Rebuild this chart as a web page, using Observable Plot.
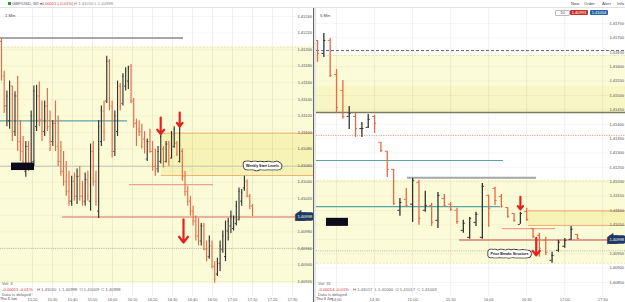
<!DOCTYPE html>
<html><head><meta charset="utf-8">
<script src="https://cdn.jsdelivr.net/npm/d3@7"></script>
<script src="https://cdn.jsdelivr.net/npm/@observablehq/plot@0.6"></script>
<style>
body{margin:0;background:#fff;font-family:"Liberation Sans",Arial,sans-serif;}
#wrap{position:relative;width:625px;height:302px;overflow:hidden;background:#fff;}
#left,#right{position:absolute;top:0;}
#left{left:0;width:313px;height:302px}
#right{left:316px;width:309px;height:302px}
.t{position:absolute;font-size:4.2px;line-height:5px;white-space:nowrap;color:#666;z-index:3}
.hdr{position:absolute;left:0;top:0;width:625px;height:7px;background:#fff;border-bottom:1px solid #e2e2e2;z-index:2}
.div{position:absolute;left:313px;top:8px;width:3px;height:294px;background:#e6e6e6;border-left:1px solid #666;box-sizing:border-box;z-index:2}
.btn{position:absolute;top:10px;height:5px;font-size:4px;line-height:5px;color:#fff;text-align:center;z-index:3;border-radius:1px}
</style></head><body><div id="wrap">
<div id="left"></div><div id="right"></div>
<div class="hdr"></div>
<div class="div"></div>
<div style="position:absolute;left:8px;top:2px;width:3px;height:3px;background:#2a9d3a;z-index:3"></div>
<div class="t" style="left:12px;top:1px;color:#556">GBP/USD, M1 ▾</div>
<div class="t" style="left:40px;top:1px;color:#d33">-0.00011 (-0.01%)</div>
<div class="t" style="left:74px;top:1px;color:#888">H 1.41010 L 1.40998</div>
<div class="t" style="left:5px;top:13px;color:#444">1 Min</div>
<div class="t" style="left:320px;top:13px;color:#444">5 Min</div>
<div class="t" style="left:571px;top:1px;color:#445">New</div>
<div class="t" style="left:584px;top:1px;color:#445">Order</div>
<div class="t" style="left:602px;top:1px;color:#445">Alert</div>
<div class="t" style="left:617px;top:1px;color:#445">Info</div>
<div class="btn" style="left:555px;width:13px;background:#fff;border:0.5px solid #bbb;color:#444;top:10px;height:4px;line-height:4px">10</div>
<div class="btn" style="left:570px;width:18px;background:#c9302c">1.40993</div>
<div class="btn" style="left:590px;width:18px;background:#2a64a8">1.41004</div>
<div class="t" style="left:2px;top:281px">Vol: 3</div>
<div class="t" style="left:2px;top:287px;color:#d33">-0.00011 -0.01%</div>
<div class="t" style="left:37px;top:287px">H 1.41010 &nbsp;L 1.40998 &nbsp;O 1.41009 &nbsp;C 1.40998</div>
<div class="t" style="left:2px;top:292px">Data is delayed</div>
<div class="t" style="left:0px;top:297px;color:#333;font-size:3.8px">Thu 3 Jun</div>
<div class="t" style="left:318px;top:281px">Vol: 31</div>
<div class="t" style="left:318px;top:287px;color:#d33">-0.00014 -0.01%</div>
<div class="t" style="left:353px;top:287px">H 1.41017 &nbsp;L 1.41000 &nbsp;O 1.41017 &nbsp;C 1.41003</div>
<div class="t" style="left:318px;top:292px">Data is delayed</div>
<div class="t" style="left:316px;top:297px;color:#333;font-size:3.8px">Thu 3 Jun</div>
</div>
<script>
// ---------- DATA ----------
// Left panel (1 Min) OHLC
const leftOpen = [1.41210,1.41168,1.41132,1.41114,1.41156,1.41101,1.41144,1.41089,1.41077,1.41053,1.41083,1.41059,1.41065,1.41107,1.41144,1.41116,1.41101,1.41132,1.41107,1.41089,1.41111,1.41083,1.41065,1.41053,1.41041,1.41029,1.41017,1.41041,1.41023,1.41047,1.41023,1.41017,1.41043,1.41017,1.41077,1.41041,1.41005,1.41089,1.41126,1.41138,1.41186,1.41132,1.41077,1.41101,1.41156,1.41135,1.41156,1.41162,1.41180,1.41138,1.41111,1.41104,1.41101,1.41092,1.41068,1.41089,1.41077,1.41059,1.41056,1.41065,1.41080,1.41065,1.41086,1.41069,1.41083,1.41087,1.41065,1.41077,1.41047,1.41029,1.41017,1.41005,1.40993,1.40975,1.40969,1.40987,1.40959,1.40950,1.40963,1.40938,1.40929,1.40942,1.40959,1.40950,1.40981,1.40987,1.40984,1.40990,1.40995,1.41017,1.41033,1.41041,1.41023,1.41011];
const leftHigh = [1.41213,1.41174,1.41150,1.41162,1.41156,1.41149,1.41168,1.41114,1.41095,1.41089,1.41089,1.41126,1.41156,1.41157,1.41161,1.41138,1.41138,1.41153,1.41126,1.41114,1.41138,1.41120,1.41089,1.41077,1.41065,1.41053,1.41047,1.41051,1.41056,1.41059,1.41041,1.41051,1.41053,1.41086,1.41089,1.41053,1.41114,1.41132,1.41138,1.41192,1.41188,1.41138,1.41126,1.41162,1.41159,1.41171,1.41178,1.41180,1.41182,1.41141,1.41116,1.41114,1.41110,1.41101,1.41092,1.41104,1.41089,1.41080,1.41083,1.41098,1.41083,1.41089,1.41089,1.41101,1.41107,1.41089,1.41107,1.41080,1.41053,1.41035,1.41023,1.41011,1.40999,1.40996,1.40990,1.40990,1.40969,1.40975,1.40969,1.40944,1.40948,1.40969,1.40981,1.40993,1.40996,1.41005,1.40999,1.41017,1.41033,1.41031,1.41047,1.41043,1.41025,1.41013];
const leftLow = [1.41162,1.41123,1.41107,1.41104,1.41089,1.41095,1.41077,1.41065,1.41056,1.41046,1.41053,1.41056,1.41059,1.41101,1.41107,1.41089,1.41095,1.41101,1.41077,1.41083,1.41077,1.41059,1.41047,1.41035,1.41023,1.41011,1.41011,1.41017,1.41013,1.41017,1.41011,1.41011,1.41017,1.41005,1.41035,1.41011,1.40996,1.41083,1.41089,1.41135,1.41126,1.41069,1.41071,1.41095,1.41126,1.41132,1.41150,1.41152,1.41135,1.41105,1.41083,1.41095,1.41080,1.41074,1.41065,1.41075,1.41053,1.41047,1.41051,1.41062,1.41057,1.41063,1.41059,1.41068,1.41081,1.41071,1.41063,1.41041,1.41023,1.41011,1.40999,1.40987,1.40969,1.40963,1.40963,1.40957,1.40944,1.40947,1.40935,1.40918,1.40926,1.40932,1.40954,1.40944,1.40969,1.40978,1.40981,1.40987,1.40993,1.41011,1.41029,1.41021,1.41007,1.40999];
const leftClose = [1.41168,1.41132,1.41144,1.41156,1.41101,1.41144,1.41089,1.41077,1.41065,1.41083,1.41059,1.41120,1.41150,1.41144,1.41116,1.41101,1.41132,1.41107,1.41089,1.41111,1.41083,1.41065,1.41053,1.41041,1.41029,1.41017,1.41041,1.41023,1.41047,1.41023,1.41017,1.41043,1.41023,1.41077,1.41041,1.41017,1.41107,1.41126,1.41101,1.41186,1.41132,1.41077,1.41120,1.41156,1.41132,1.41168,1.41174,1.41178,1.41138,1.41111,1.41089,1.41101,1.41083,1.41077,1.41089,1.41077,1.41059,1.41053,1.41077,1.41095,1.41063,1.41086,1.41065,1.41098,1.41104,1.41074,1.41104,1.41047,1.41029,1.41017,1.41005,1.40993,1.40975,1.40969,1.40987,1.40959,1.40950,1.40969,1.40938,1.40923,1.40944,1.40963,1.40975,1.40987,1.40993,1.40999,1.40996,1.41011,1.41029,1.41027,1.41043,1.41023,1.41011,1.41000];
const leftFirstBar = 904.5, leftLastBar = 1030; // minutes of day

// Right panel (5 Min) OHLC, first bar 13:45
const rightOpen = [1.41691,1.41646,1.41691,1.41573,1.41517,1.41427,1.41427,1.41385,1.41389,1.41427,1.41337,1.41306,1.41243,1.41101,1.41139,1.41122,1.41198,1.41101,1.41118,1.41066,1.41142,1.41122,1.41101,1.41031,1.41007,1.41059,1.41007,1.41153,1.41177,1.41149,1.41111,1.41090,1.41052,1.41097,1.41038,1.41014,1.40997,1.40927,1.40962,1.40976,1.41000,1.41017];
const rightHigh = [1.41691,1.41715,1.41698,1.41590,1.41552,1.41462,1.41437,1.41406,1.41434,1.41431,1.41337,1.41306,1.41243,1.41142,1.41177,1.41212,1.41205,1.41167,1.41125,1.41163,1.41156,1.41128,1.41108,1.41066,1.41076,1.41094,1.41194,1.41153,1.41181,1.41156,1.41111,1.41090,1.41094,1.41108,1.41038,1.41021,1.41007,1.40955,1.40997,1.41003,1.41045,1.41017];
const rightLow = [1.41615,1.41632,1.41562,1.41437,1.41417,1.41382,1.41354,1.41354,1.41385,1.41368,1.41302,1.41215,1.41118,1.41080,1.41111,1.41059,1.41049,1.41094,1.41045,1.41038,1.41111,1.41097,1.41052,1.41021,1.41000,1.41045,1.41000,1.41042,1.41118,1.41108,1.41073,1.41059,1.41052,1.41062,1.41003,1.40938,1.40944,1.40917,1.40955,1.40969,1.40997,1.41000];
const rightClose = [1.41646,1.41691,1.41569,1.41458,1.41427,1.41437,1.41385,1.41385,1.41417,1.41403,1.41309,1.41243,1.41125,1.41128,1.41118,1.41205,1.41073,1.41118,1.41059,1.41153,1.41118,1.41104,1.41062,1.41056,1.41073,1.41087,1.41184,1.41108,1.41135,1.41115,1.41080,1.41066,1.41090,1.41069,1.41010,1.40969,1.40955,1.40944,1.40990,1.40997,1.41035,1.41003];
const rightFirstBar = 825, rightBarMinutes = 5;

// Axis ticks (the tick under the current-price tag is hidden in the reference)
const leftYTicks = [1.4092,1.4094,1.4096,1.4098,1.4100,1.4102,1.4104,1.4106,1.4108,1.4110,1.4112,1.4114,1.4116,1.4118,1.4120,1.4122,1.4124];
const leftYLabels = [1.4092,1.4094,1.4096,1.4098,1.4102,1.4104,1.4106,1.4108,1.4110,1.4112,1.4114,1.4116,1.4118,1.4120,1.4122,1.4124];
const rightYTicks = [1.4085,1.4090,1.4095,1.4100,1.4105,1.4110,1.4115,1.4120,1.4125,1.4130,1.4135,1.4140,1.4145,1.4150,1.4155,1.4160,1.4165,1.4170,1.4175];
const rightYLabels = [1.4085,1.4090,1.4095,1.4105,1.4110,1.4115,1.4120,1.4125,1.4130,1.4135,1.4140,1.4145,1.4150,1.4155,1.4160,1.4165,1.4170,1.4175];
const leftTimeTicks = [920,930,940,950,960,970,980,990,1000,1010,1020,1030,1040,1050];
const rightTimeTicks = [840,870,900,930,960,990,1020,1050];

// Levels (prices)
const paleZone = [1.40917, 1.41203];
const supplyBox = [1.41048, 1.41099];
const upperZone = [1.41441, 1.41639];
const upperDarkZone = [1.41441, 1.41531];
const weeklyHigh = [1.41214];
const tealLevel = [1.41114];
const tealUpper = [1.41274];
const weeklyStart = [1.41059];
const salmonLevel = [1.41037];
const currentPrice = [1.40998];
const dottedLevel = [1.40960];
const dashedUpper = [1.41656];
const upperSolid = [1.41441];
const dottedUpper = [1.41361];

// Annotations: [time, priceFrom, priceTo]
const leftArrows = [[984.1, 1.41118, 1.41098], [993.6, 1.41124, 1.41107], [995.5, 1.40995, 1.40967]];
const rightArrows = [[985, 1.41148, 1.41104], [997.5, 1.41005, 1.40944]];
const leftLabel = [[1035, 1.41060, "Weekly Start Levels"]];
const rightLabel = [[976.4, 1.40951, "Price Breaks Structure"]];
const leftBlackBox = [[909.5, 921, 1.41054, 1.41063]];
const rightBlackBox = [[832.1, 849.4, 1.41045, 1.41073]];
// segment extents (minutes) for partial lines
const leftSeg = {weeklyHigh: [904, 995.5], teal: [904, 967.5], salmon: [968.5, 1010.5], current: 935, box: 984.5};
const rightSeg = {weeklyHigh: [896, 997.7], teal: [824.2, 969.3], tealUpper: [824.2, 971.7], salmon: [970.9, 1012.7], current: 937, box: 991.4};

// ---------- DRAWING ----------
const FONT = "Liberation Sans, Arial, sans-serif";
const RED = "#e46a48", DARK = "#333330";
const PALE = "#fbfbd8", BOX = "#f6f3b4", TEAL = "#5aa5a8", SALMON = "#eea28c", ORANGE = "#efb47e";
const fmtT = m => `${Math.floor(m / 60)}:${String(Math.round(m % 60)).padStart(2, "0")}`;
const fmtP = d => d.toFixed(5);

function bars(O, H, L, C, times) {
  return O.map((o, i) => ({t: times[i], open: o, high: H[i], low: L[i], close: C[i]}));
}
const leftStep = (leftLastBar - leftFirstBar) / (leftOpen.length - 1);
const leftBars = bars(leftOpen, leftHigh, leftLow, leftClose, leftOpen.map((_, i) => leftFirstBar + i * leftStep));
const rightBars = bars(rightOpen, rightHigh, rightLow, rightClose, rightOpen.map((_, i) => rightFirstBar + i * rightBarMinutes));

function ohlc(data, w, sw) {
  const col = d => d.close < d.open ? RED : DARK;
  return [
    Plot.ruleX(data, {x: "t", y1: "low", y2: "high", stroke: col, strokeWidth: sw}),
    Plot.ruleY(data, {y: "open", x1: d => d.t - w, x2: "t", stroke: col, strokeWidth: 1}),
    Plot.ruleY(data, {y: "close", x1: "t", x2: d => d.t + w, stroke: col, strokeWidth: 1})
  ];
}
function boxedLabel(data) {
  const o = {x: d => d[0], y: d => d[1], text: d => d[2], fontSize: 3.5, fontWeight: "bold"};
  return [
    Plot.text(data, {...o, fill: "#111", stroke: "#111", strokeWidth: 6.6, strokeLinejoin: "round"}),
    Plot.text(data, {...o, fill: "#111", stroke: "white", strokeWidth: 5, strokeLinejoin: "round", paintOrder: "stroke"})
  ];
}
function arrows(data) {
  return Plot.arrow(data, {x1: d => d[0], x2: d => d[0], y1: d => d[1], y2: d => d[2], stroke: "#e4221b", strokeWidth: 2.2, headLength: 5, headAngle: 75});
}
function priceTag(x) {
  return Plot.text(currentPrice, {x, y: d => d, text: fmtP, textAnchor: "end", dx: -1.5, fill: "white", stroke: "#1d3a63", strokeWidth: 5.5, strokeLinejoin: "miter", paintOrder: "stroke", fontSize: 4});
}
const common = {height: 302, marginTop: 8, marginBottom: 6, marginLeft: 0, marginRight: 0, color: {type: "identity"},
  style: {fontFamily: FONT, fontSize: "4.5px", background: "white", color: "#555"}};

// Left panel
const LX = [904, 1060.5];
const left = Plot.plot({
  ...common, width: 313,
  x: {domain: LX, range: [0, 313]},
  y: {domain: [1.4092, 1.4124], range: [281, 16]},
  marks: [
    Plot.rect([paleZone], {x1: LX[0], x2: LX[1], y1: d => d[0], y2: d => d[1], fill: PALE}),
    Plot.rect([supplyBox], {x1: leftSeg.box, x2: LX[1], y1: d => d[0], y2: d => d[1], fill: BOX}),
    Plot.gridX(leftTimeTicks, {stroke: "#000", strokeOpacity: 0.06}),
    Plot.gridY(leftYTicks, {stroke: "#000", strokeOpacity: 0.04}),
    Plot.ruleY([paleZone[1]], {x1: LX[0], x2: LX[1], stroke: "#ece6a6", strokeDasharray: "2,1.5"}),
    Plot.ruleY(supplyBox, {x1: leftSeg.box, x2: LX[1], stroke: ORANGE, strokeWidth: 1.2}),
    Plot.ruleY(weeklyHigh, {x1: leftSeg.weeklyHigh[0], x2: leftSeg.weeklyHigh[1], stroke: "#a6a6a6", strokeWidth: 2}),
    Plot.ruleY(tealLevel, {x1: leftSeg.teal[0], x2: leftSeg.teal[1], stroke: TEAL, strokeWidth: 1.2}),
    Plot.ruleY(weeklyStart, {x1: LX[0], x2: LX[1], stroke: "#cfcfc0", strokeWidth: 1.2}),
    Plot.ruleY(salmonLevel, {x1: leftSeg.salmon[0], x2: leftSeg.salmon[1], stroke: SALMON, strokeWidth: 1.2}),
    Plot.ruleY(currentPrice, {x1: leftSeg.current, x2: LX[1], stroke: "#e39a88", strokeWidth: 1.5}),
    Plot.ruleY(dottedLevel, {x1: LX[0], x2: LX[1], stroke: "#b8b8a8", strokeDasharray: "1,1.2"}),
    ...ohlc(leftBars, 0.5, 1.15),
    Plot.rect(leftBlackBox, {x1: d => d[0], x2: d => d[1], y1: d => d[2], y2: d => d[3], fill: "#0b0b1c"}),
    arrows(leftArrows),
    ...boxedLabel(leftLabel),
    Plot.axisY(leftYLabels, {anchor: "right", tickSize: 0, tickPadding: 0, dx: -1.5, textAnchor: "end", tickFormat: fmtP, fontSize: 4, fill: "#555", label: null}),
    priceTag(LX[1]),
    Plot.axisX(leftTimeTicks, {tickSize: 0, tickPadding: 1.5, tickFormat: fmtT, fontSize: 4, fill: "#666", label: null})
  ]
});
document.getElementById("left").append(left);

// Right panel
const RX = [824.2, 1067.9];
const right = Plot.plot({
  ...common, width: 309,
  x: {domain: RX, range: [0, 309]},
  y: {domain: [1.4085, 1.4175], range: [282, 23]},
  marks: [
    Plot.rect([upperZone], {x1: RX[0], x2: RX[1], y1: d => d[0], y2: d => d[1], fill: PALE}),
    Plot.rect([upperDarkZone], {x1: RX[0], x2: RX[1], y1: d => d[0], y2: d => d[1], fill: "#f8f6c4"}),
    Plot.rect([paleZone], {x1: RX[0], x2: RX[1], y1: d => d[0], y2: d => d[1], fill: PALE}),
    Plot.rect([supplyBox], {x1: rightSeg.box, x2: RX[1], y1: d => d[0], y2: d => d[1], fill: BOX}),
    Plot.gridX(rightTimeTicks, {stroke: "#000", strokeOpacity: 0.06}),
    Plot.gridY(rightYTicks, {stroke: "#000", strokeOpacity: 0.04}),
    Plot.ruleY([upperZone[1], paleZone[1], paleZone[0]], {x1: RX[0], x2: RX[1], stroke: "#ece6a6", strokeDasharray: "2,1.5"}),
    Plot.ruleY(dashedUpper, {x1: RX[0], x2: RX[1], stroke: "#666", strokeDasharray: "3,2"}),
    Plot.ruleY(upperSolid, {x1: RX[0], x2: RX[1], stroke: "#7a7a5e", strokeWidth: 1.5}),
    Plot.ruleY(dottedUpper, {x1: RX[0], x2: RX[1], stroke: SALMON, strokeDasharray: "1.2,1.2"}),
    Plot.ruleY(tealUpper, {x1: rightSeg.tealUpper[0], x2: rightSeg.tealUpper[1], stroke: TEAL, strokeWidth: 1.2}),
    Plot.ruleY(weeklyHigh, {x1: rightSeg.weeklyHigh[0], x2: rightSeg.weeklyHigh[1], stroke: "#a6a6a6", strokeWidth: 2}),
    Plot.ruleY(tealLevel, {x1: rightSeg.teal[0], x2: rightSeg.teal[1], stroke: TEAL, strokeWidth: 1.2}),
    Plot.ruleY(supplyBox, {x1: rightSeg.box, x2: RX[1], stroke: ORANGE, strokeWidth: 1.2}),
    Plot.ruleY(salmonLevel, {x1: rightSeg.salmon[0], x2: rightSeg.salmon[1], stroke: SALMON, strokeWidth: 1.2}),
    Plot.ruleY(currentPrice, {x1: rightSeg.current, x2: RX[1], stroke: "#d98070", strokeWidth: 1.5}),
    Plot.ruleY(dottedLevel, {x1: RX[0], x2: RX[1], stroke: "#b8b8a8", strokeDasharray: "1,1.2"}),
    ...ohlc(rightBars, 1.6, 1.3),
    Plot.rect(rightBlackBox, {x1: d => d[0], x2: d => d[1], y1: d => d[2], y2: d => d[3], fill: "#0b0b1c"}),
    arrows(rightArrows),
    ...boxedLabel(rightLabel),
    Plot.axisY(rightYLabels, {anchor: "right", tickSize: 0, tickPadding: 0, dx: -1.5, textAnchor: "end", tickFormat: fmtP, fontSize: 4, fill: "#555", label: null}),
    priceTag(RX[1]),
    Plot.axisX(rightTimeTicks, {tickSize: 0, tickPadding: 1.5, tickFormat: fmtT, fontSize: 4, fill: "#666", label: null})
  ]
});
document.getElementById("right").append(right);
</script>
</body></html>
